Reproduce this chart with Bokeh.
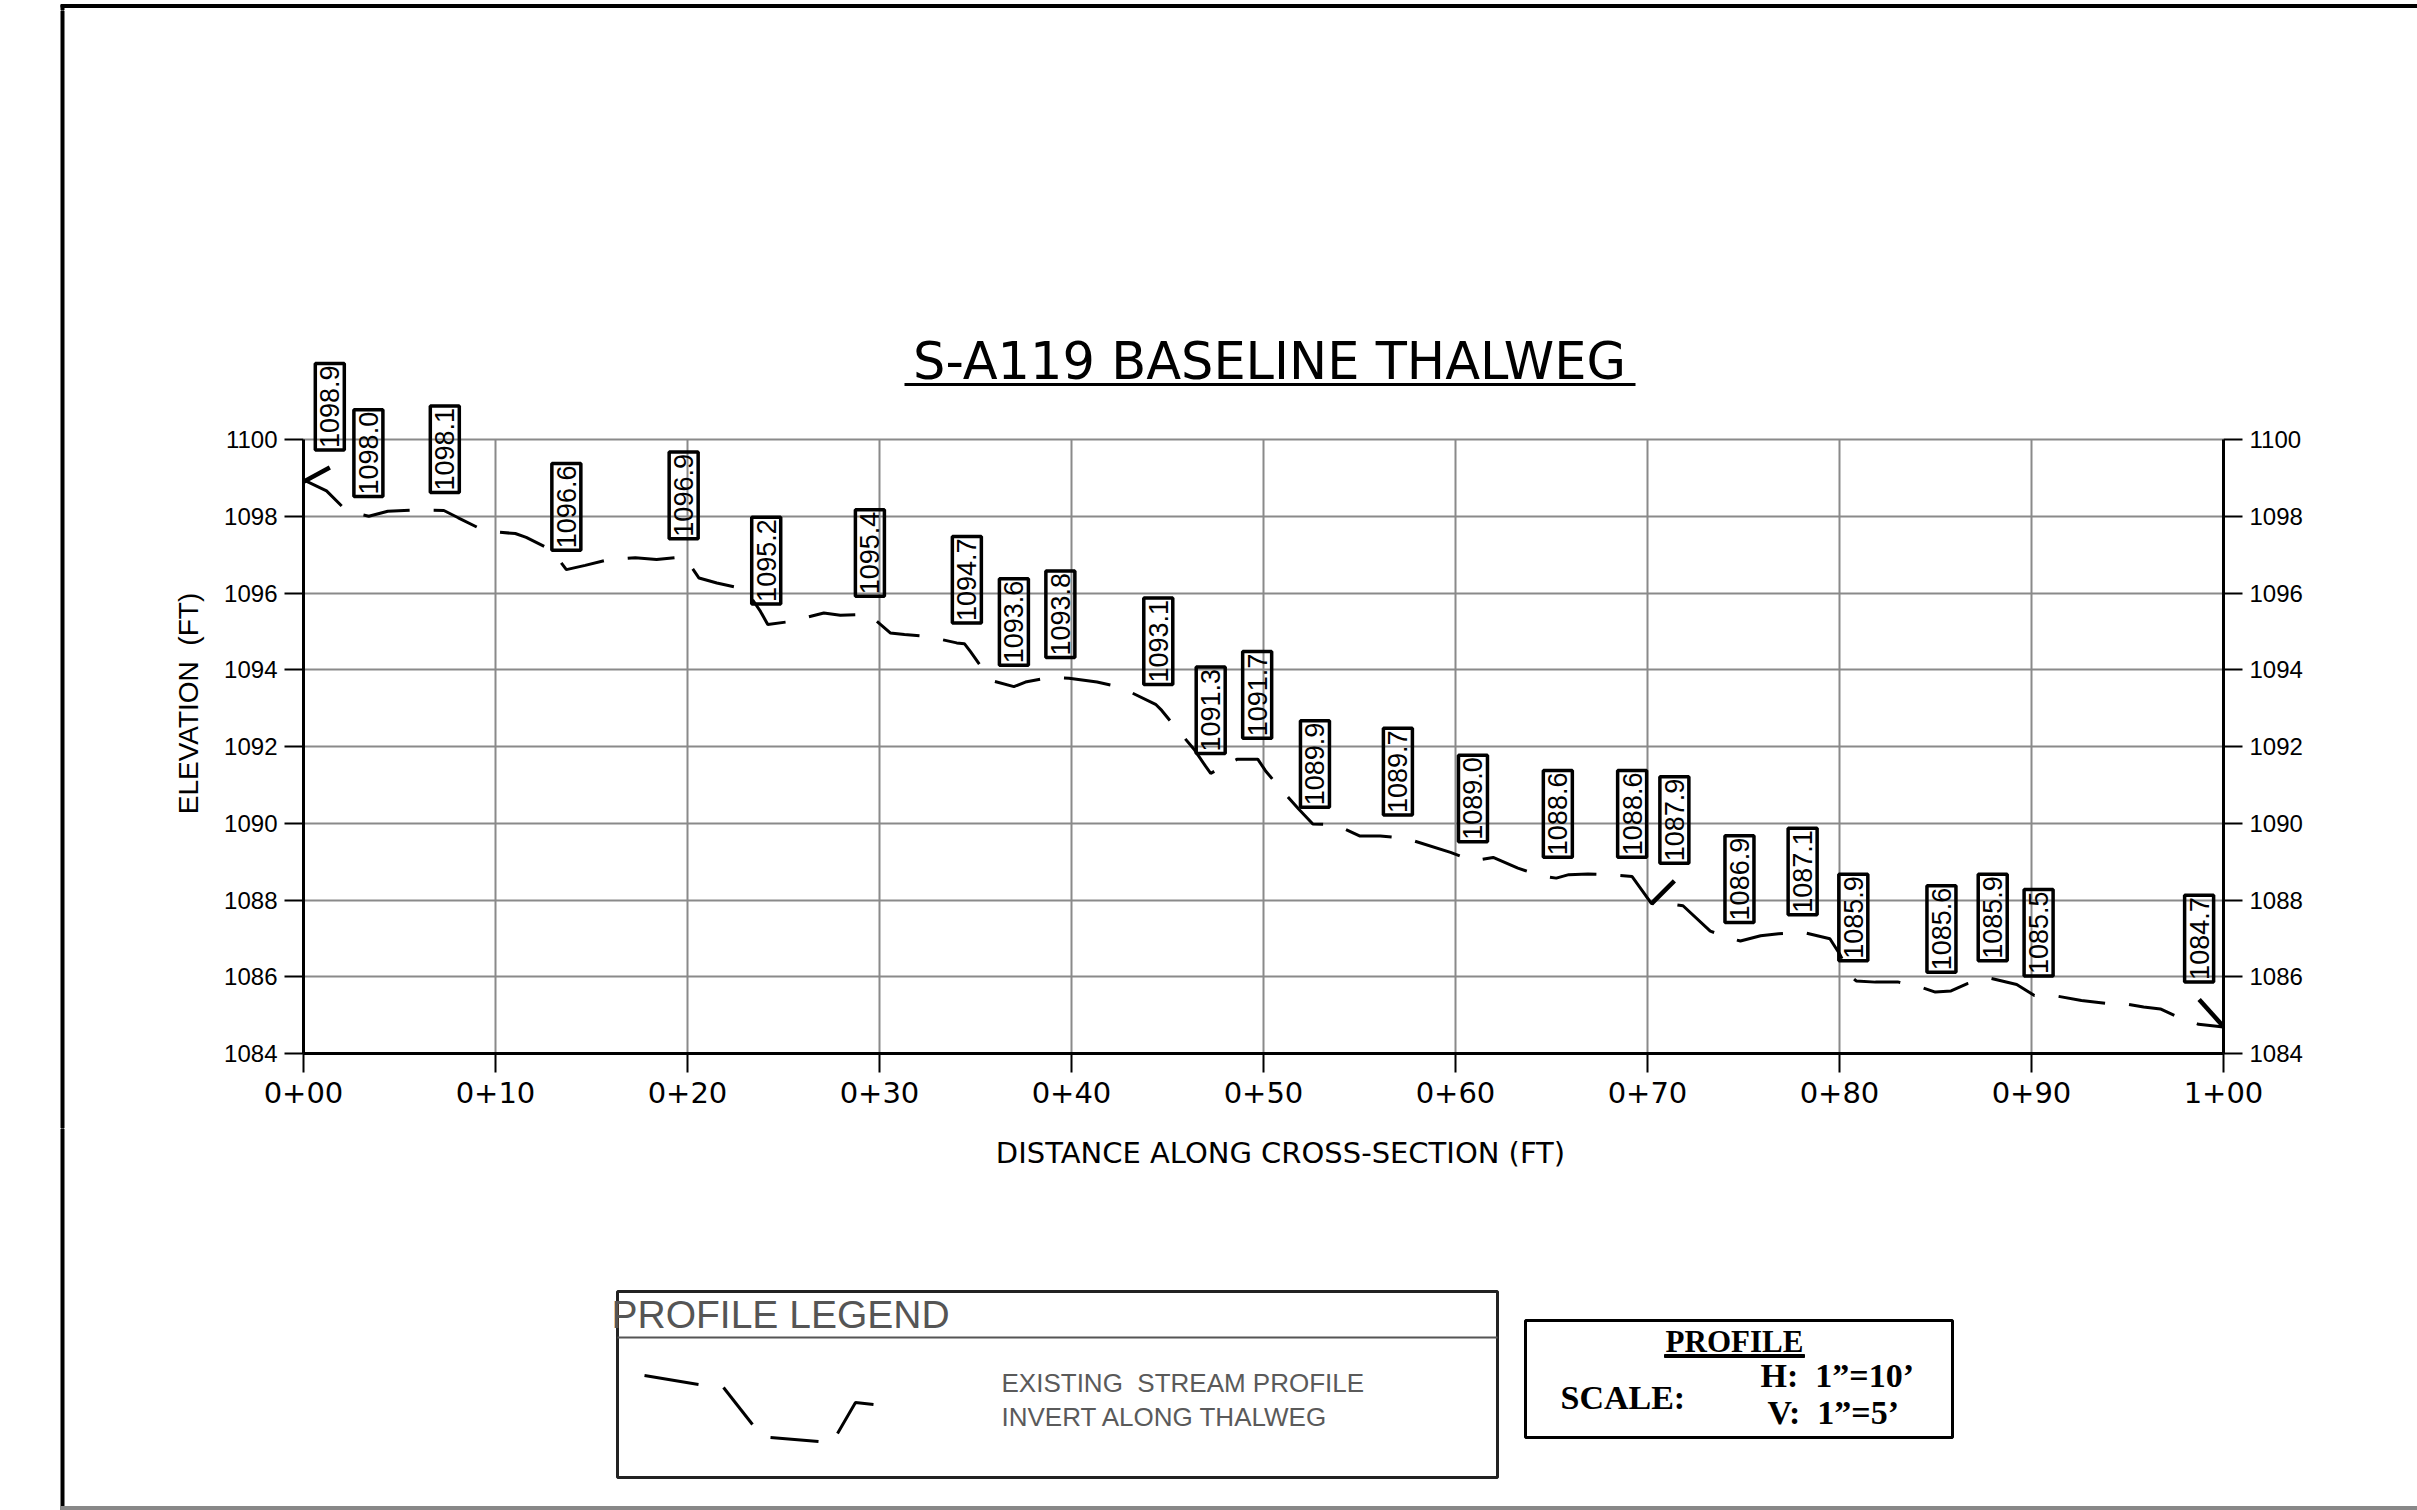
import math
from bokeh.plotting import figure
from bokeh.layouts import column, row
from bokeh.models import Range1d, FixedTicker, LinearAxis, Label, BoxAnnotation
from bokeh.core.properties import value
from bokeh.embed import file_html
from bokeh.resources import INLINE

# ---------------- data ----------------
# thalweg profile vertices (station in ft, elevation in ft)
profile_station = [0.0, 1.2, 2.08, 2.45, 3.4, 4.39, 5.63, 7.31, 8.06, 9.1, 9.97, 11.03, 11.6,
                   12.68, 13.16, 13.69, 14.67, 15.9, 17.28, 18.39, 19.53, 19.88, 20.6, 21.53,
                   22.72, 23.1, 23.8, 24.18, 25.4, 27.1, 27.96, 29.2, 29.5, 30.56, 31.3, 32.5,
                   34.02, 34.42, 34.74, 35.48, 35.83, 37.0, 37.6, 38.8, 39.87, 41.33, 42.52,
                   44.38, 44.7, 45.45, 46.38, 46.99, 47.25, 47.97, 48.64, 49.7, 50.1, 50.9,
                   51.83, 52.57, 53.74, 55.0, 56.08, 57.4, 59.74, 60.9, 61.96, 63.25, 64.45,
                   65.25, 65.9, 66.9, 68.1, 69.2, 70.2, 71.15, 71.85, 73.27, 74.39, 74.84,
                   75.89, 76.83, 78.08, 79.5, 80.0, 80.62, 80.87, 81.87, 83.07, 84.24, 84.99,
                   85.81, 86.66, 87.8, 89.23, 90.15, 91.4, 92.6, 93.84, 95.04, 95.84, 96.71,
                   97.46, 98.7, 100.0]
profile_elev = [1098.95, 1098.66, 1098.22, 1098.11, 1098.0, 1098.13, 1098.16, 1098.15, 1097.96,
                1097.70, 1097.59, 1097.55, 1097.45, 1097.18, 1096.96, 1096.61, 1096.72,
                1096.87, 1096.92, 1096.87, 1096.93, 1096.91, 1096.39, 1096.26, 1096.13,
                1096.04, 1095.52, 1095.18, 1095.26, 1095.48, 1095.42, 1095.44, 1095.42,
                1094.96, 1094.92, 1094.87, 1094.70, 1094.68, 1094.47, 1093.95, 1093.72,
                1093.56, 1093.68, 1093.79, 1093.78, 1093.68, 1093.55, 1093.10, 1092.94,
                1092.48, 1091.93, 1091.48, 1091.30, 1091.50, 1091.67, 1091.67, 1091.37,
                1090.89, 1090.37, 1089.98, 1089.96, 1089.67, 1089.67, 1089.61, 1089.24,
                1089.02, 1089.11, 1088.83, 1088.63, 1088.57, 1088.66, 1088.68, 1088.66,
                1088.61, 1087.91, 1087.90, 1087.85, 1087.19, 1086.99, 1086.93, 1087.07,
                1087.12, 1087.16, 1086.99, 1086.60, 1086.00, 1085.89, 1085.86, 1085.86,
                1085.73, 1085.60, 1085.63, 1085.82, 1085.97, 1085.80, 1085.51, 1085.49,
                1085.38, 1085.31, 1085.28, 1085.21, 1085.16, 1084.99, 1084.76, 1084.69]

# labelled spot elevations
spot_station = [0.0, 3.38, 7.36, 13.69, 19.8, 24.1, 29.5, 34.55, 37.0, 39.42, 44.52, 47.25,
                49.67, 52.68, 57.0, 60.91, 65.33, 69.2, 70.2, 74.79, 78.08, 80.72, 85.31,
                87.98, 90.37, 100.0]
spot_elev = [1098.9, 1098.0, 1098.1, 1096.6, 1096.9, 1095.2, 1095.4, 1094.7, 1093.6, 1093.8,
             1093.1, 1091.3, 1091.7, 1089.9, 1089.7, 1089.0, 1088.6, 1088.6, 1087.9, 1086.9,
             1087.1, 1085.9, 1085.6, 1085.9, 1085.5, 1084.7]

x_ticks = [0, 10, 20, 30, 40, 50, 60, 70, 80, 90, 100]
x_tick_labels = ["0+00", "0+10", "0+20", "0+30", "0+40", "0+50",
                 "0+60", "0+70", "0+80", "0+90", "1+00"]
y_ticks = [1084, 1086, 1088, 1090, 1092, 1094, 1096, 1098, 1100]

# ---------------- layout / style ----------------
W, H = 2417, 1510                       # page size (the template has no body margin)
TOPH = 10                               # top strip (sheet border)
LW = 205                                # left strip (sheet border + y title)
MIDB = 1128                             # page y where the lower sheet part begins
FL, FR, FT, FB = 303, 2223, 439, 1053   # chart frame (data area) edges in page px
PPF_Y = (FB - FT) / (y_ticks[-1] - y_ticks[0])   # px per ft vertically

GRID = "#8a8a8a"
CAD = "DejaVu Sans"
ARIAL = "Liberation Sans"
SERIF = "Liberation Serif"
NB = "\u00a0"


def sx(px):   # page x -> screen units of the chart frame
    return px - FL


def sy(py):   # page y -> screen units of the chart frame (upwards)
    return FB - py


def no_align(f):
    if "frame_align" in f.properties():
        f.frame_align = False
    return f


def page_fig(x0, x1, y0, y1):
    f = figure(width=x1 - x0, height=y1 - y0, x_range=Range1d(x0, x1), y_range=Range1d(y1, y0),
               x_axis_type=None, y_axis_type=None, output_backend="svg",
               toolbar_location=None, min_border=0)
    f.outline_line_color = None
    f.background_fill_color = "white"
    f.border_fill_color = "white"
    return no_align(f)


# ---- top strip: sheet border
top = page_fig(0, W, 0, TOPH)
top.quad(left=60.5, right=W, top=2, bottom=5, color="black")
top.quad(left=60.5, right=63.5, top=2, bottom=TOPH, color="black")

# ---- left strip: sheet border + elevation title
left = page_fig(0, LW, TOPH, MIDB)
left.quad(left=60.5, right=63.5, top=TOPH, bottom=MIDB, color="black")
left.text(x=[188], y=[703], text=["ELEVATION" + NB + " (FT)"], angle=math.pi / 2,
          text_font=value(ARIAL), text_font_size="28px", text_align="center",
          text_baseline="middle", text_color="black")

# ---- chart
y_top = y_ticks[0] + (FB - TOPH) / PPF_Y
p = figure(width=W - LW, height=MIDB - TOPH,
           x_range=Range1d(x_ticks[0], x_ticks[-1]), y_range=Range1d(y_ticks[0], y_top),
           output_backend="svg", toolbar_location=None,
           min_border_left=FL - LW, min_border_right=W - FR,
           min_border_top=0, min_border_bottom=MIDB - FB)
no_align(p)
p.outline_line_color = None
p.background_fill_color = "white"
p.border_fill_color = "white"

# grid
p.xgrid.visible = False
p.ygrid.ticker = FixedTicker(ticks=y_ticks)
p.ygrid.grid_line_color = GRID
p.ygrid.grid_line_width = 2
p.segment(x0=x_ticks, y0=[y_ticks[0]] * len(x_ticks), x1=x_ticks, y1=[y_ticks[-1]] * len(x_ticks),
          line_color=GRID, line_width=2)

# axes
xa = p.xaxis[0]
ya = p.yaxis[0]
xa.ticker = FixedTicker(ticks=x_ticks)
xa.major_label_overrides = {t: l for t, l in zip(x_ticks, x_tick_labels)}
ya.ticker = FixedTicker(ticks=y_ticks)
ra = LinearAxis(ticker=FixedTicker(ticks=y_ticks))
p.add_layout(ra, "right")
for ax in (ya, ra):
    ax.bounds = (y_ticks[0], y_ticks[-1])
for ax in (xa, ya, ra):
    ax.axis_line_color = "black"
    ax.axis_line_width = 3
    ax.major_tick_line_color = "black"
    ax.major_tick_line_width = 2
    ax.major_tick_in = 0
    ax.major_tick_out = 19
    ax.minor_tick_line_color = None
    ax.major_label_text_color = "black"
xa.major_label_text_font = CAD
xa.major_label_text_font_size = "29px"
xa.major_label_standoff = 9
for ax in (ya, ra):
    ax.major_label_text_font = ARIAL
    ax.major_label_text_font_size = "24px"
    ax.major_label_standoff = 7

# profile line
p.line(profile_station, profile_elev, line_color="black", line_width=3, line_dash="47 24")

# spot labels (boxed, rotated); a few are shifted and get a leader line
LIFT = 0.36
shifted = {0: (1.37, 0.67), 18: (1.2, 0.9), len(spot_station) - 1: (-1.27, 1.01)}
lead_x0, lead_y0, lead_x1, lead_y1 = [], [], [], []
for i, (s, e) in enumerate(zip(spot_station, spot_elev)):
    dx, lift = shifted.get(i, (0.0, LIFT))
    p.add_layout(Label(x=s + dx, y=e + lift, text=f"{e:.1f}", angle=90, angle_units="deg",
                       text_align="left", text_baseline="middle", y_offset=6,
                       text_font=ARIAL, text_font_size="27px", text_color="black",
                       border_line_color="black", border_line_width=3.5,
                       background_fill_color=None, padding=(2, 5)))
    if i in shifted:
        lead_x0.append(s + dx)
        lead_y0.append(e + lift - 0.3)
        lead_x1.append(s)
        lead_y1.append(e)
p.segment(lead_x0, lead_y0, lead_x1, lead_y1, line_color="black", line_width=4.5)

# title (inside the chart frame area, above the data)
p.add_layout(Label(x=sx(1269), y=sy(361), x_units="screen", y_units="screen",
                   text="S-A119 BASELINE THALWEG", text_font=CAD, text_font_size="51px",
                   text_align="center", text_baseline="middle", text_color="black"))
p.add_layout(BoxAnnotation(left=sx(904), right=sx(1635), top=sy(382.5), bottom=sy(385.5),
                           left_units="screen", right_units="screen", top_units="screen",
                           bottom_units="screen", fill_color="black", fill_alpha=1,
                           line_color=None))

# ---- lower sheet part: x title, legend and scale boxes
bot = page_fig(0, W, MIDB, H)
bot.quad(left=60.5, right=63.5, top=MIDB, bottom=H, color="black")
bot.quad(left=60.5, right=W, top=1506, bottom=1509, color="#888888")
bot.text(x=[1280], y=[1152], text=["DISTANCE ALONG CROSS-SECTION (FT)"],
         text_font=value(CAD), text_font_size="29px", text_align="center",
         text_baseline="middle", text_color="black")

# profile legend
bot.quad(left=617, right=1497, top=1291, bottom=1477, fill_color=None,
         line_color="#222222", line_width=3)
bot.segment(x0=[617], y0=[1337], x1=[1497], y1=[1337], line_color="#555555", line_width=2)
bot.text(x=[611], y=[1314], text=["PROFILE LEGEND"], text_font=value(ARIAL),
         text_font_size="39px", text_align="left", text_baseline="middle",
         text_color="#555555")
bot.multi_line(xs=[[644, 698], [723, 752], [770, 818], [837, 855, 873]],
               ys=[[1375, 1384], [1387, 1424], [1437, 1441], [1433, 1402, 1404]],
               line_color="black", line_width=3)
bot.text(x=[1001, 1001], y=[1382, 1416],
         text=["EXISTING" + NB + " STREAM PROFILE", "INVERT ALONG THALWEG"],
         text_font=value(ARIAL), text_font_size="26px", text_align="left",
         text_baseline="middle", text_color="#5a5a5a")

# scale box
bot.quad(left=1525, right=1952, top=1320, bottom=1437, fill_color=None,
         line_color="black", line_width=3)
bot.text(x=[1734], y=[1341], text=["PROFILE"], text_font=value(SERIF), text_font_size="31px",
         text_font_style="bold", text_align="center", text_baseline="middle",
         text_color="black")
bot.quad(left=1664, right=1804, top=1354, bottom=1357, color="black")
bot.text(x=[1560, 1760, 1767], y=[1397, 1375, 1412],
         text=["SCALE:", "H:" + NB + " 1\u201d=10\u2019", "V:" + NB + " 1\u201d=5\u2019"],
         text_font=value(SERIF), text_font_size="34px", text_font_style="bold",
         text_align="left", text_baseline="middle", text_color="black")

layout = column(top, row(left, p, spacing=0), bot, spacing=0)
open("out.html", "w").write(file_html(layout, INLINE))
